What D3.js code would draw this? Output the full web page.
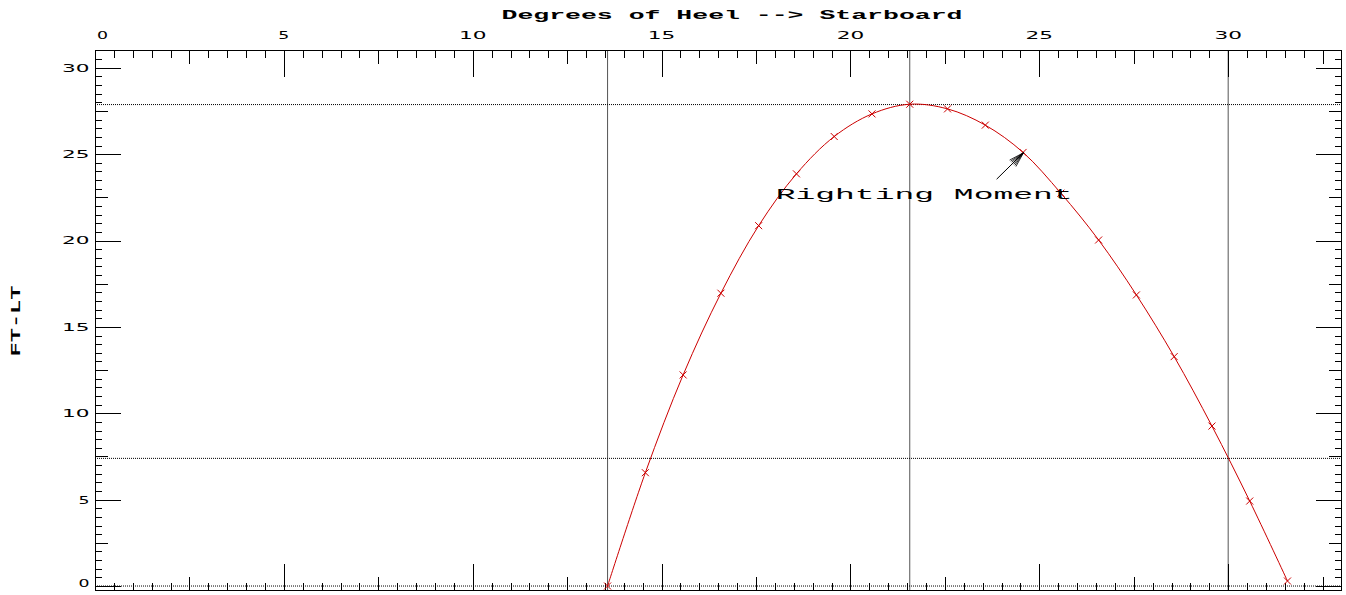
<!DOCTYPE html>
<html><head><meta charset="utf-8">
<script src="https://cdn.jsdelivr.net/npm/d3@7"></script>
<style>html,body{margin:0;padding:0;background:#fff;}</style>
</head><body>
<svg id="c" width="1346" height="595"></svg>
<script>
// ---- data ----
const heel = [13.57,14.57,15.57,16.57,17.57,18.57,19.57,20.57,21.57,22.57,23.57,24.57,25.57,26.57,27.57,28.57,29.57,30.57,31.57];
const moment = [0,6.56,12.22,16.95,20.86,23.86,26.02,27.33,27.89,27.62,26.68,25.1,22.74,20.03,16.85,13.28,9.26,4.92,0.29];
const xTickValues = [0,5,10,15,20,25,30];
const xTickLabels = ["0","5","10","15","20","25","30"];
const yTickValues = [0,5,10,15,20,25,30];
const yTickLabels = ["0","5","10","15","20","25","30"];
const vLines = [13.57,21.57,30.0];
const hLines = [0,7.39,27.87];
const titleText = "Degrees of Heel --> Starboard";
const yTitle = "FT-LT";
const annText = "Righting Moment";
const annPos = [18.02,22.4];
const arrowFrom = [23.87,23.55];
const arrowTo = [24.58,25.08];

// ---- layout ----
const L=95, R=1341.5, T=50.5, B=590;
const svg=d3.select("#c");
const x=d3.scaleLinear().domain([0,33]).range([L,R]);
const y=d3.scaleLinear().domain([-0.23,31]).range([B,T]);

const xAll=d3.range(0,33.001,0.5).filter(v=>v>0&&v<33);
const yAll=d3.range(0,31.001,0.5).filter(v=>v<31);
const lvl=v=> (Math.abs(v%5)<1e-6)?2:((Math.abs(v%2.5)<1e-6)?1:0);
const sizes=[7,13,26];

function drawAxes(){
  for(let k=0;k<3;k++){
    const xv=xAll.filter(v=>lvl(v)===k), yv=yAll.filter(v=>lvl(v)===k);
    const gs=[
      [d3.axisBottom(x).tickValues(xv),`translate(0,${T})`],
      [d3.axisTop(x).tickValues(xv),`translate(0,${B})`],
      [d3.axisRight(y).tickValues(yv),`translate(${L},0)`],
      [d3.axisLeft(y).tickValues(yv),`translate(${R},0)`]
    ];
    gs.forEach(([ax,tr])=>{
      const g=svg.append("g").attr("transform",tr)
        .call(ax.tickSizeInner(sizes[k]).tickSizeOuter(0).tickFormat(""));
      g.select(".domain").remove();
      g.selectAll("line").attr("stroke","#000").attr("stroke-width",1).attr("shape-rendering","crispEdges");
    });
  }
}

// reference lines
vLines.forEach(v=>svg.append("line").attr("x1",x(v)).attr("x2",x(v)).attr("y1",T).attr("y2",B)
  .attr("stroke","#555").attr("stroke-width",1));
hLines.forEach(v=>svg.append("line").attr("x1",L).attr("x2",R).attr("y1",y(v)).attr("y2",y(v))
  .attr("stroke","#000").attr("stroke-width",1).attr("stroke-dasharray","1,1"));

drawAxes();

// frame
svg.append("rect").attr("x",L).attr("y",T).attr("width",R-L).attr("height",B-T)
  .attr("fill","none").attr("stroke","#000").attr("stroke-width",1).attr("shape-rendering","crispEdges");

// tick labels
const lblFont="'DejaVu Sans', sans-serif";
xTickValues.forEach((v,i)=>{
  const t=xTickLabels[i], w=t.length===1?11:27.5;
  const cx=Math.max(x(v), L+2+w/2);
  svg.append("text").attr("x",cx).attr("y",39.3).attr("text-anchor","middle")
    .attr("font-family",lblFont).attr("font-size",11).attr("textLength",w).attr("lengthAdjust","spacingAndGlyphs")
    .text(t);
});
yTickValues.forEach((v,i)=>{
  const t=yTickLabels[i], w=t.length===1?11:27.5;
  const by=Math.min(y(v)+3.9, B-2.7);
  svg.append("text").attr("x",89.5).attr("y",by).attr("text-anchor","end")
    .attr("font-family",lblFont).attr("font-size",11).attr("textLength",w).attr("lengthAdjust","spacingAndGlyphs")
    .text(t);
});

// titles
const monoFont="'Liberation Mono', 'DejaVu Sans Mono', monospace";
svg.append("text").attr("x",732).attr("y",19).attr("text-anchor","middle")
  .attr("font-family",monoFont).attr("font-weight","bold").attr("font-size",12)
  .attr("textLength",461).attr("lengthAdjust","spacingAndGlyphs").text(titleText);
svg.append("text").attr("transform","translate(19.5,321) rotate(-90)").attr("text-anchor","middle")
  .attr("font-family",monoFont).attr("font-weight","bold").attr("font-size",12)
  .attr("textLength",71).attr("lengthAdjust","spacingAndGlyphs").text(yTitle);

// curve
const pts=heel.map((h,i)=>[h,moment[i]]);
svg.append("path").datum(pts)
  .attr("d",d3.line().x(d=>x(d[0])).y(d=>y(d[1])).curve(d3.curveCatmullRom.alpha(0.5)))
  .attr("fill","none").attr("stroke","#cc0000").attr("stroke-width",1);
const m=3.5;
svg.append("g").selectAll("path").data(pts).join("path")
  .attr("d",d=>{const px=x(d[0]),py=y(d[1]);return `M${px-m},${py-m}L${px+m},${py+m}M${px-m},${py+m}L${px+m},${py-m}`;})
  .attr("stroke","#cc0000").attr("stroke-width",1).attr("fill","none");

// annotation
svg.append("text").attr("x",x(annPos[0])).attr("y",y(annPos[1]))
  .attr("font-family",monoFont).attr("font-size",14.5)
  .attr("textLength",297).attr("lengthAdjust","spacingAndGlyphs").text(annText);
const ax0=x(arrowFrom[0]), ay0=y(arrowFrom[1]), ax1=x(arrowTo[0]), ay1=y(arrowTo[1]);
svg.append("line").attr("x1",ax0).attr("y1",ay0).attr("x2",ax1).attr("y2",ay1).attr("stroke","#000").attr("stroke-width",1);
const ang=Math.atan2(ay1-ay0,ax1-ax0), hl=15, hw=4.5;
const bx=ax1-hl*Math.cos(ang), byy=ay1-hl*Math.sin(ang);
const px=-Math.sin(ang), py=Math.cos(ang);
d3.range(-hw,hw+0.01,1.5).forEach(o=>{
  svg.append("line").attr("x1",ax1).attr("y1",ay1).attr("x2",bx+px*o).attr("y2",byy+py*o)
    .attr("stroke","#000").attr("stroke-width",0.8);
});
</script>
</body></html>
